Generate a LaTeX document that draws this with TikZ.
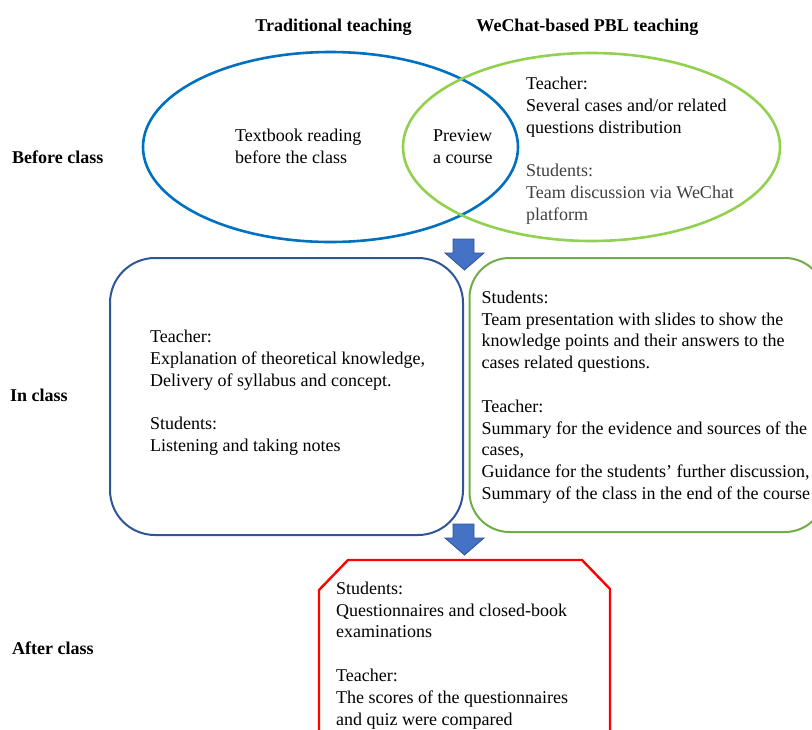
\documentclass[tikz,border=0pt]{standalone}
\usepackage{fontspec}
\setmainfont{Liberation Serif}
\usetikzlibrary{shapes.geometric}
\definecolor{ellblue}{RGB}{0,112,192}
\definecolor{ellgreen}{RGB}{146,208,80}
\definecolor{boxblue}{RGB}{47,85,151}
\definecolor{boxgreen}{RGB}{112,173,71}
\definecolor{arrowfill}{RGB}{68,114,196}
\definecolor{arrowline}{RGB}{47,82,143}
\definecolor{softtext}{RGB}{64,64,64}
\begin{document}
\begin{tikzpicture}[x=1pt,y=-1pt,
  txt/.style={font=\fontsize{18}{21.8}\selectfont, align=left, inner sep=0pt, anchor=base west},
  head/.style={font=\fontsize{18}{21.8}\selectfont\bfseries, inner sep=0pt},
  ellbox/.style={ellipse, inner sep=0pt, line width=2.6pt},
  roundbox/.style={draw, rectangle, inner sep=0pt, line width=2pt},
  blockarrow/.style={fill=arrowfill, draw=arrowline, line width=0.8pt, line join=miter}]
\useasboundingbox (0,0) rectangle (812,729);
\clip (0,0) rectangle (812,729);

% headings
\node[head, anchor=base] (h1) at (333.5,31) {Traditional teaching};
\node[head, anchor=base] (h2) at (587.5,31) {WeChat-based PBL teaching};
\node[head, anchor=base west] (r1) at (12,163) {Before class};
\node[head, anchor=base west] (r2) at (10,401) {In class};
\node[head, anchor=base west] (r3) at (12,654) {After class};

% ellipses
\node[ellbox, draw=ellblue, minimum width=375pt, minimum height=190pt] (trad) at (330.5,147) {};
\node[ellbox, draw=ellgreen, minimum width=377pt, minimum height=188pt] (pbl) at (591.5,147) {};

% (anchor base = baseline of the last line)
\node[txt] (t1) at (235,163.5) {Textbook reading\\before the class};
\node[txt] (t2) at (433,163.5) {Preview\\a course};
\node[txt] (t3) at (526,133.1) {Teacher:\\Several cases and/or related\\questions distribution};
\node[txt, text=softtext] (t4) at (526,220.3) {Students:\\Team discussion via WeChat\\platform};

% in-class boxes
\node[roundbox, draw=boxblue, rounded corners=45pt, minimum width=353pt, minimum height=277pt] (inA) at (286.5,396.5) {};
\node[roundbox, draw=boxgreen, rounded corners=40pt, minimum width=355.5pt, minimum height=274pt] (inB) at (647.25,395) {};

\node[txt] (t5) at (150,451.7) {Teacher:\\Explanation of theoretical knowledge,\\Delivery of syllabus and concept.\\[21.8pt]Students:\\Listening and taking notes};
\node[txt] (t6) at (481.5,499.5) {Students:\\Team presentation with slides to show the\\knowledge points and their answers to the\\cases related questions.\\[21.8pt]Teacher:\\Summary for the evidence and sources of the\\cases,\\Guidance for the students' further discussion,\\Summary of the class in the end of the course};

% after-class octagon
\draw[red, line width=2.4pt, line join=miter] (319,760) -- (319,590) -- (348,560) -- (582,560) -- (610,589) -- (610,760);
\node[txt] (t7) at (336,725.1) {Students:\\Questionnaires and closed-book\\examinations\\[21.8pt]Teacher:\\The scores of the questionnaires\\and quiz were compared};

% block arrows
\draw[blockarrow] (453,239) -- (474,239) -- (474,253) -- (484,253) -- (464.5,270) -- (445,253) -- (453,253) -- cycle;
\draw[blockarrow] (453,524) -- (474,524) -- (474,538) -- (484,538) -- (464.5,555) -- (445,538) -- (453,538) -- cycle;
\end{tikzpicture}
\end{document}
